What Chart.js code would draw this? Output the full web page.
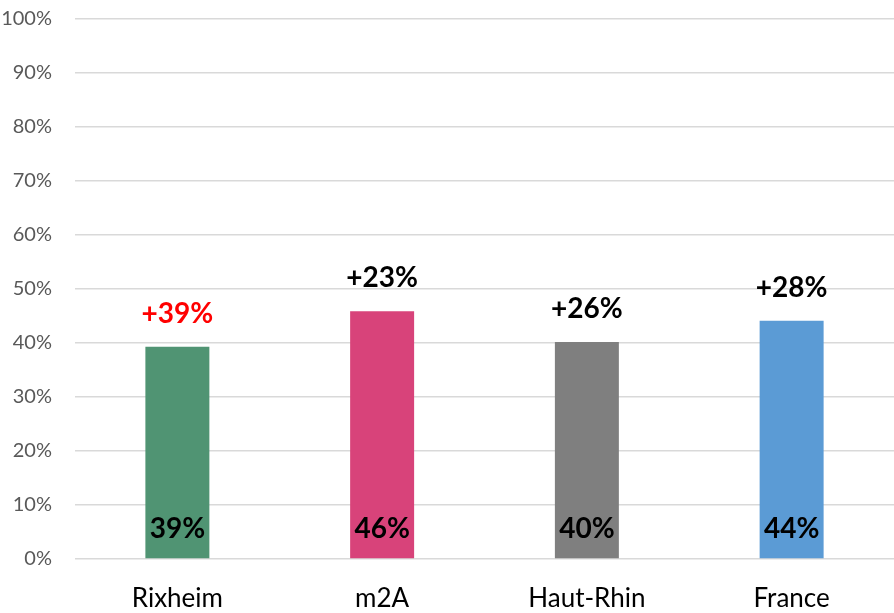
<!DOCTYPE html>
<html>
<head>
<meta charset="utf-8">
<script src="https://cdn.jsdelivr.net/npm/chart.js@4/dist/chart.umd.min.js"></script>
<style>
html,body{margin:0;padding:0;background:#fff;}
#wrap{width:894px;height:613px;}
</style>
</head>
<body>
<div id="wrap"><canvas id="c" width="894" height="613"></canvas></div>
<script>
const categories = ['Rixheim', 'm2A', 'Haut-Rhin', 'France'];
const shares = [39.3, 45.9, 40.2, 44.1];
const shareLabels = ['39%', '46%', '40%', '44%'];
const changeLabels = ['+39%', '+23%', '+26%', '+28%'];
const barColors = ['#509473', '#d8437a', '#7f7f7f', '#5b9bd5'];
const changeColors = ['#ff0000', '#000000', '#000000', '#000000'];

const labelPlugin = {
  id: 'barLabels',
  afterDatasetsDraw(chart) {
    const ctx = chart.ctx;
    const meta = chart.getDatasetMeta(0);
    ctx.save();
    ctx.textAlign = 'center';
    ctx.textBaseline = 'middle';
    ctx.font = 'bold 28px Lato, "Open Sans", sans-serif';
    meta.data.forEach((bar, i) => {
      ctx.fillStyle = '#000000';
      ctx.fillText(shareLabels[i], bar.x, bar.base - 29);
      ctx.fillStyle = changeColors[i];
      ctx.fillText(changeLabels[i], bar.x, bar.y - 33);
    });
    ctx.restore();
  }
};

new Chart(document.getElementById('c'), {
  type: 'bar',
  data: {
    labels: categories,
    datasets: [{
      data: shares,
      backgroundColor: barColors,
      borderWidth: 0,
      barPercentage: 0.3125,
      categoryPercentage: 1
    }]
  },
  options: {
    responsive: false,
    animation: false,
    events: [],
    layout: { padding: 0 },
    plugins: { legend: { display: false }, tooltip: { enabled: false } },
    scales: {
      x: {
        grid: { display: false, drawTicks: false },
        border: { display: false },
        ticks: { color: '#000000', font: { family: 'Lato, "Open Sans", sans-serif', size: 26 }, padding: 24 },
        afterFit(scale) { scale.height = 54; }
      },
      y: {
        min: 0, max: 100,
        grid: { color: '#d9d9d9', lineWidth: 1.5, drawTicks: false },
        border: { display: false },
        ticks: {
          stepSize: 10,
          color: '#595959',
          font: { family: 'Lato, "Open Sans", sans-serif', size: 20 },
          padding: 23,
          callback: v => v + '%'
        },
        afterFit(scale) {
          scale.width = 75;
          scale.paddingTop = 19;
          scale.paddingBottom = 0;
        }
      }
    }
  },
  plugins: [labelPlugin]
});
</script>
</body>
</html>
